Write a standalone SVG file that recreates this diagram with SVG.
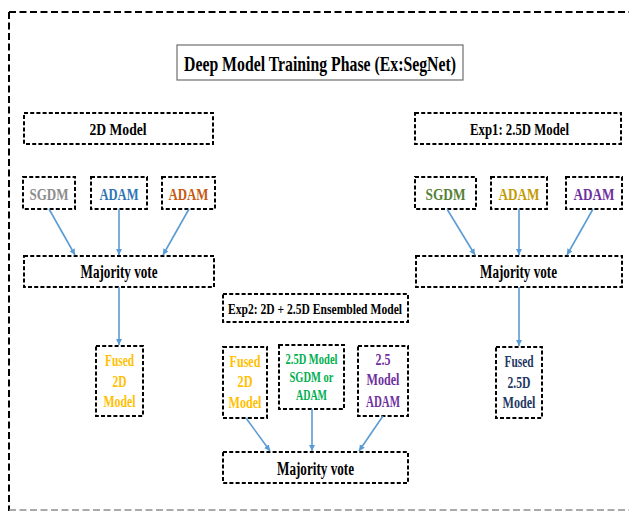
<svg xmlns="http://www.w3.org/2000/svg" width="629" height="511" viewBox="0 0 629 511">
  <style>
    .box { fill: #ffffff; stroke: #000000; stroke-width: 2; stroke-dasharray: 4 2.2; }
    .frame { fill: none; stroke: #000000; stroke-width: 2; stroke-dasharray: 7 3.5; }
    .frame-b { fill: none; stroke: #8f8f8f; stroke-width: 1.5; stroke-dasharray: 7 3.5; }
    .t { font-family: "Liberation Serif", "Times New Roman", serif; font-weight: bold; text-anchor: middle; }
    .blk { fill: #000000; }
    .conn { fill: none; stroke: #5b9bd5; stroke-width: 1.6; marker-end: url(#arr); }
  </style>
  <defs>
    <marker id="arr" markerUnits="userSpaceOnUse" markerWidth="8" markerHeight="8" refX="6" refY="3" orient="auto">
      <path d="M0,0 L6,3 L0,6 Z" fill="#5b9bd5"/>
    </marker>
  </defs>

  <rect width="629" height="511" fill="#ffffff"/>

  <!-- outer frame -->
  <g id="frame">
    <line class="frame" x1="9" y1="12" x2="629" y2="12"/>
    <line class="frame" x1="9" y1="12" x2="9" y2="511"/>
    <line class="frame-b" x1="9" y1="510" x2="629" y2="510"/>
  </g>

  <!-- title -->
  <g id="title">
    <rect x="177" y="45" width="286" height="35" fill="#ffffff" stroke="#6e6e6e" stroke-width="1.2"/>
    <text class="t blk" x="320" y="70.5" font-size="22" textLength="272" lengthAdjust="spacingAndGlyphs">Deep Model Training Phase (Ex:SegNet)</text>
  </g>

  <!-- 2D branch -->
  <g id="hdr-2d">
    <rect class="box" x="24" y="113" width="189" height="31"/>
    <text class="t blk" x="118" y="135" font-size="17" textLength="57" lengthAdjust="spacingAndGlyphs">2D Model</text>
  </g>
  <g id="sgdm-2d">
    <rect class="box" x="23" y="177" width="52" height="32"/>
    <text class="t" x="49" y="199.5" font-size="17.5" fill="#8c8c8c" textLength="39" lengthAdjust="spacingAndGlyphs">SGDM</text>
  </g>
  <g id="adam-2d-a">
    <rect class="box" x="91" y="177" width="56" height="32"/>
    <text class="t" x="119" y="199.5" font-size="17.5" fill="#2e75b6" textLength="39" lengthAdjust="spacingAndGlyphs">ADAM</text>
  </g>
  <g id="adam-2d-b">
    <rect class="box" x="162" y="177" width="53" height="32"/>
    <text class="t" x="188.5" y="199.5" font-size="17.5" fill="#c55a11" textLength="40" lengthAdjust="spacingAndGlyphs">ADAM</text>
  </g>
  <g id="vote-2d">
    <rect class="box" x="24" y="256" width="190" height="31"/>
    <text class="t blk" x="119" y="277.5" font-size="18.5" textLength="77" lengthAdjust="spacingAndGlyphs">Majority vote</text>
  </g>
  <g id="fused-2d">
    <rect class="box" x="96" y="346" width="47" height="70"/>
    <text class="t" x="119.5" y="366" font-size="17.5" fill="#ffc000" textLength="29" lengthAdjust="spacingAndGlyphs">Fused</text>
    <text class="t" x="119.5" y="387" font-size="17.5" fill="#ffc000" textLength="14" lengthAdjust="spacingAndGlyphs">2D</text>
    <text class="t" x="119.5" y="407" font-size="17.5" fill="#ffc000" textLength="32" lengthAdjust="spacingAndGlyphs">Model</text>
  </g>

  <!-- 2.5D branch -->
  <g id="hdr-25d">
    <rect class="box" x="415" y="113" width="206" height="31"/>
    <text class="t blk" x="519.5" y="135" font-size="17" textLength="99" lengthAdjust="spacingAndGlyphs">Exp1: 2.5D Model</text>
  </g>
  <g id="sgdm-25d">
    <rect class="box" x="415" y="177" width="61" height="32"/>
    <text class="t" x="445.5" y="199.5" font-size="17.5" fill="#548235" textLength="40" lengthAdjust="spacingAndGlyphs">SGDM</text>
  </g>
  <g id="adam-25d-a">
    <rect class="box" x="491" y="177" width="56" height="32"/>
    <text class="t" x="519" y="199.5" font-size="17.5" fill="#c49a06" textLength="41" lengthAdjust="spacingAndGlyphs">ADAM</text>
  </g>
  <g id="adam-25d-b">
    <rect class="box" x="566" y="177" width="56" height="32"/>
    <text class="t" x="594" y="199.5" font-size="17.5" fill="#7030a0" textLength="41" lengthAdjust="spacingAndGlyphs">ADAM</text>
  </g>
  <g id="vote-25d">
    <rect class="box" x="416" y="256" width="206" height="31"/>
    <text class="t blk" x="518.5" y="277.5" font-size="18.5" textLength="77" lengthAdjust="spacingAndGlyphs">Majority vote</text>
  </g>
  <g id="fused-25d">
    <rect class="box" x="496" y="347" width="46" height="71"/>
    <text class="t" x="519" y="367" font-size="17.5" fill="#1f3864" textLength="29" lengthAdjust="spacingAndGlyphs">Fused</text>
    <text class="t" x="519" y="388" font-size="17.5" fill="#1f3864" textLength="23" lengthAdjust="spacingAndGlyphs">2.5D</text>
    <text class="t" x="519" y="408" font-size="17.5" fill="#1f3864" textLength="33" lengthAdjust="spacingAndGlyphs">Model</text>
  </g>

  <!-- ensemble branch -->
  <g id="hdr-ens">
    <rect class="box" x="223" y="294" width="185" height="28"/>
    <text class="t blk" x="315" y="313.5" font-size="15" textLength="174" lengthAdjust="spacingAndGlyphs">Exp2: 2D + 2.5D Ensembled Model</text>
  </g>
  <g id="ens-fused-2d">
    <rect class="box" x="223" y="347" width="44" height="71"/>
    <text class="t" x="245" y="367" font-size="17.5" fill="#ffc000" textLength="31" lengthAdjust="spacingAndGlyphs">Fused</text>
    <text class="t" x="245" y="387" font-size="17.5" fill="#ffc000" textLength="15" lengthAdjust="spacingAndGlyphs">2D</text>
    <text class="t" x="245" y="408" font-size="17.5" fill="#ffc000" textLength="33" lengthAdjust="spacingAndGlyphs">Model</text>
  </g>
  <g id="ens-25d-model">
    <rect class="box" x="279" y="345" width="65" height="64"/>
    <text class="t" x="311.5" y="364" font-size="15" fill="#00b050" textLength="52" lengthAdjust="spacingAndGlyphs">2.5D Model</text>
    <text class="t" x="311.5" y="382" font-size="15" fill="#00b050" textLength="44" lengthAdjust="spacingAndGlyphs">SGDM or</text>
    <text class="t" x="311.5" y="400" font-size="15" fill="#00b050" textLength="31" lengthAdjust="spacingAndGlyphs">ADAM</text>
  </g>
  <g id="ens-25-adam">
    <rect class="box" x="358" y="346" width="50" height="70"/>
    <text class="t" x="383" y="365" font-size="17.5" fill="#7030a0" textLength="15" lengthAdjust="spacingAndGlyphs">2.5</text>
    <text class="t" x="383" y="385" font-size="17.5" fill="#7030a0" textLength="33" lengthAdjust="spacingAndGlyphs">Model</text>
    <text class="t" x="383" y="407" font-size="17.5" fill="#7030a0" textLength="34" lengthAdjust="spacingAndGlyphs">ADAM</text>
  </g>
  <g id="vote-ens">
    <rect class="box" x="223" y="452" width="185" height="31"/>
    <text class="t blk" x="315.5" y="474.5" font-size="18.5" textLength="77" lengthAdjust="spacingAndGlyphs">Majority vote</text>
  </g>

  <!-- connectors -->
  <g id="connectors">
    <line class="conn" x1="49" y1="209" x2="75" y2="255"/>
    <line class="conn" x1="119" y1="209" x2="119" y2="255"/>
    <line class="conn" x1="189" y1="209" x2="163" y2="255"/>
    <line class="conn" x1="119" y1="287" x2="119" y2="345"/>
    <line class="conn" x1="447" y1="209" x2="475" y2="255"/>
    <line class="conn" x1="519" y1="209" x2="519" y2="255"/>
    <line class="conn" x1="593" y1="209" x2="567" y2="255"/>
    <line class="conn" x1="519" y1="287" x2="519" y2="346"/>
    <line class="conn" x1="246" y1="418" x2="270" y2="451"/>
    <line class="conn" x1="312" y1="409" x2="312" y2="451"/>
    <line class="conn" x1="383" y1="416" x2="359" y2="451"/>
  </g>
</svg>
